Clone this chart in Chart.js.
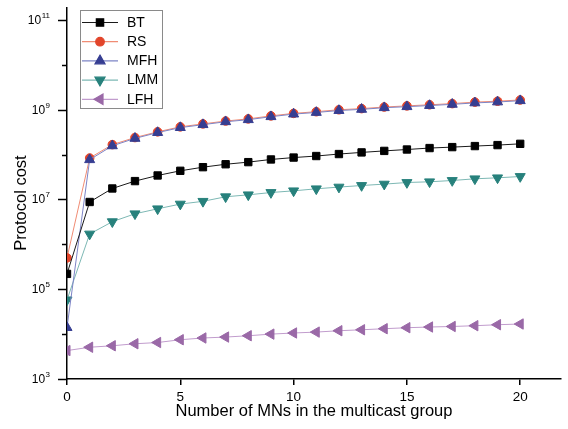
<!DOCTYPE html>
<html>
<head>
<meta charset="utf-8">
<script src="https://cdn.jsdelivr.net/npm/chart.js@4.4.1/dist/chart.umd.min.js"></script>
<style>
  html, body { margin: 0; padding: 0; background: #fff; }
  canvas { display: block; }
</style>
</head>
<body>
<canvas id="costChart" width="568" height="429"></canvas>
<script>
const mnCounts = [0, 1, 2, 3, 4, 5, 6, 7, 8, 9, 10, 11, 12, 13, 14, 15, 16, 17, 18, 19, 20];

const btCost  = [2.2e5, 8.8e6, 1.76e7, 2.57e7, 3.43e7, 4.36e7, 5.25e7, 6.1e7, 6.8e7, 7.8e7, 8.6e7,
                 9.3e7, 1.03e8, 1.12e8, 1.21e8, 1.30e8, 1.40e8, 1.47e8, 1.55e8, 1.63e8, 1.74e8];
const rsCost  = [5.0e5, 8.4e7, 1.67e8, 2.4e8, 3.22e8, 4.16e8, 4.84e8, 5.6e8, 6.25e8, 7.3e8, 8.3e8,
                 9.05e8, 1.0e9, 1.06e9, 1.15e9, 1.22e9, 1.29e9, 1.37e9, 1.48e9, 1.55e9, 1.65e9];
const mfhCost = [1.4e4, 7.7e7, 1.57e8, 2.3e8, 3.1e8, 4.0e8, 4.65e8, 5.4e8, 6.0e8, 7.0e8, 8.0e8,
                 8.7e8, 9.6e8, 1.02e9, 1.11e9, 1.17e9, 1.24e9, 1.32e9, 1.42e9, 1.49e9, 1.59e9];
const lmmCost = [5.8e4, 1.7e6, 3.2e6, 4.8e6, 6.2e6, 7.9e6, 9.1e6, 1.15e7, 1.27e7, 1.43e7, 1.56e7,
                 1.73e7, 1.89e7, 2.05e7, 2.2e7, 2.39e7, 2.48e7, 2.65e7, 2.89e7, 3.04e7, 3.25e7];
const lfhCost = [4.3e3, 5.1e3, 5.5e3, 6.1e3, 6.5e3, 7.5e3, 8.2e3, 8.6e3, 9.2e3, 1.0e4, 1.06e4,
                 1.11e4, 1.19e4, 1.25e4, 1.32e4, 1.39e4, 1.44e4, 1.48e4, 1.54e4, 1.62e4, 1.68e4];

const yTickExps = [3, 4, 5, 6, 7, 8, 9, 10, 11];
const FONT = 'Arial, "Liberation Sans", sans-serif';

function series(label, values, line, mark, style, rot, radius, order) {
    return {
        label,
        data: mnCounts.map((n, i) => ({ x: n, y: values[i] })),
        borderColor: line,
        borderWidth: 1,
        pointStyle: style,
        pointRotation: rot,
        pointRadius: radius,
        pointHoverRadius: radius,
        pointBackgroundColor: mark,
        pointBorderColor: mark,
        pointBorderWidth: 1,
        order,
        clip: 0
    };
}

const datasets = [
    series('BT', btCost, '#1a1a1a', '#000000', 'rect', 0, 5.2, 0),
    series('RS', rsCost, '#f08c74', '#e2452b', 'circle', 0, 4.3, 2),
    series('MFH', mfhCost, '#7d84c6', '#363e92', 'triangle', 0, 5.8, 1),
    series('LMM', lmmCost, '#7db8b4', '#27817c', 'triangle', 180, 5.8, 3),
    series('LFH', lfhCost, '#c19ccd', '#9a69a7', 'triangle', 270, 6, 4)
];

// axis labels with superscripts, minor/major ticks, titles and boxed legend
const decor = {
    id: 'decor',
    afterDraw(chart) {
        const ctx = chart.ctx;
        const ys = chart.scales.y;
        const left = chart.chartArea.left;
        ctx.save();
        ctx.strokeStyle = '#000';
        ctx.fillStyle = '#000';
        ctx.lineWidth = 1.5;
        yTickExps.forEach(e => {
            const py = Math.round(ys.getPixelForValue(Math.pow(10, e))) + 0.5;
            const major = e % 2 === 1;
            ctx.beginPath();
            ctx.moveTo(left - (major ? 9 : 5), py);
            ctx.lineTo(left, py);
            ctx.stroke();
            if (major) {
                ctx.textAlign = 'right';
                ctx.textBaseline = 'middle';
                ctx.font = '8px ' + FONT;
                const sup = String(e);
                const sw = ctx.measureText(sup).width;
                ctx.fillText(sup, 50, py - 5);
                ctx.font = '12px ' + FONT;
                ctx.fillText('10', 50 - sw - 0.5, py + 0.5);
            }
        });

        ctx.font = '16.5px ' + FONT;
        ctx.textAlign = 'center';
        ctx.textBaseline = 'middle';
        ctx.fillText('Number of MNs in the multicast group', (chart.chartArea.left + chart.chartArea.right) / 2, 411);
        ctx.translate(21.5, 203);
        ctx.rotate(-Math.PI / 2);
        ctx.fillText('Protocol cost', 0, 0);
        ctx.restore();

        // legend
        ctx.save();
        ctx.fillStyle = '#fff';
        ctx.fillRect(80, 10, 82, 98);
        ctx.strokeStyle = '#8a8a8a';
        ctx.lineWidth = 1;
        ctx.strokeRect(80.5, 10.5, 82, 98);
        datasets.forEach((ds, i) => {
            const cy = 22.5 + i * 19.2;
            ctx.strokeStyle = ds.borderColor;
            ctx.lineWidth = 1.2;
            ctx.beginPath();
            ctx.moveTo(82, cy);
            ctx.lineTo(118, cy);
            ctx.stroke();
            ctx.fillStyle = ds.pointBackgroundColor;
            ctx.strokeStyle = ds.pointBorderColor;
            Chart.helpers.drawPoint(ctx, {
                pointStyle: ds.pointStyle,
                rotation: ds.pointRotation,
                radius: ds.pointRadius,
                borderWidth: 1
            }, 100, cy);
            ctx.fillStyle = '#000';
            ctx.font = '14px ' + FONT;
            ctx.textAlign = 'left';
            ctx.textBaseline = 'middle';
            ctx.fillText(ds.label, 127, cy + 0.5);
        });
        ctx.restore();
    }
};

new Chart(document.getElementById('costChart'), {
    type: 'line',
    data: { datasets },
    options: {
        responsive: false,
        animation: false,
        devicePixelRatio: 1,
        layout: { padding: { top: 8, right: 1, left: 0, bottom: 0 } },
        plugins: { legend: { display: false }, tooltip: { enabled: false } },
        scales: {
            x: {
                type: 'linear',
                min: 0,
                max: 21.8,
                afterFit: scale => { scale.height = 50; },
                ticks: {
                    stepSize: 5,
                    includeBounds: false,
                    color: '#000',
                    padding: 4,
                    font: { family: FONT, size: 13.5 }
                },
                grid: { drawOnChartArea: false, drawTicks: true, tickLength: 6, color: '#000', lineWidth: 1.5 },
                border: { display: true, color: '#000', width: 1.5 }
            },
            y: {
                type: 'logarithmic',
                min: 1e3,
                max: 1.85e11,
                afterFit: scale => { scale.width = 67; },
                ticks: { display: false },
                grid: { display: false },
                border: { display: true, color: '#000', width: 1.5 }
            }
        }
    },
    plugins: [decor]
});
</script>
</body>
</html>
